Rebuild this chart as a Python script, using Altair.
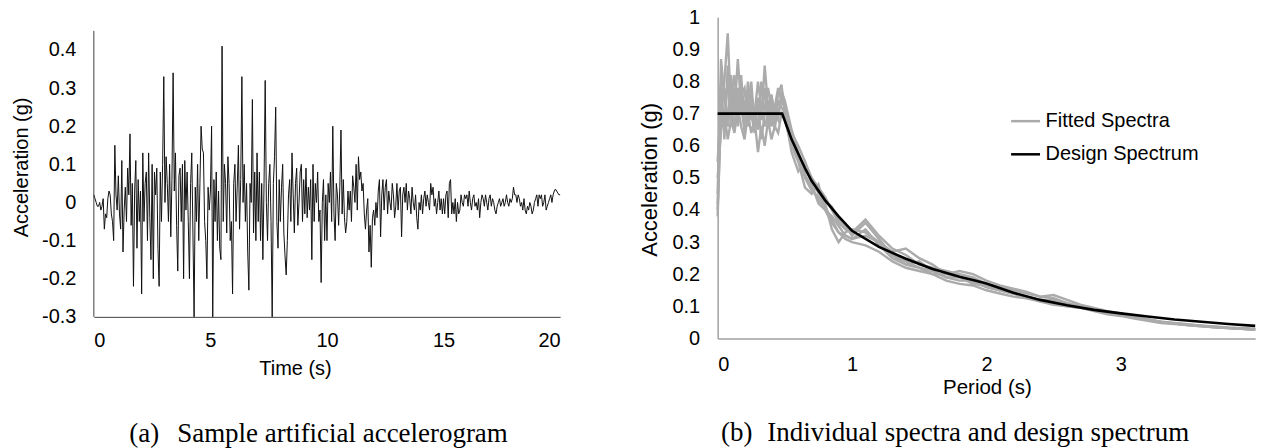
import altair as alt
import pandas as pd

FONT = "Liberation Sans"
SERIF = "Liberation Serif"

# ---------------- Panel (a): sample artificial accelerogram (dt = 0.05 s) ----------------
acc_chunks = [
    [0.02, 0.01, 0.0, -0.01, -0.01, 0.0, -0.02, -0.01, 0.01, -0.07, -0.03, -0.04, 0.01, 0.03, 0.02, -0.03, -0.05, -0.1, 0.15, 0.02],
    [-0.02, 0.07, -0.03, -0.07, 0.11, -0.13, -0.02, 0.04, -0.05, 0.09, 0.02, 0.18, -0.06, 0.05, -0.22, 0.03, 0.11, -0.12, 0.06, -0.05],
    [0.03, -0.24, 0.13, -0.05, 0.05, 0.08, -0.1, 0.13, -0.04, -0.15, 0.1, -0.2, 0.08, 0.02, 0.09, -0.12, -0.22, 0.08, -0.05, 0.1],
    [0.33, 0.0, 0.12, 0.05, -0.05, 0.1, -0.09, 0.06, 0.34, 0.03, 0.13, -0.06, -0.18, 0.07, 0.09, -0.05, 0.1, -0.2, 0.11, -0.02],
    [0.08, -0.05, -0.2, 0.05, 0.13, -0.08, -0.3, 0.04, -0.05, 0.1, -0.1, 0.05, 0.2, 0.14, 0.13, -0.05, -0.1, -0.2, 0.04, -0.02],
    [0.03, 0.2, -0.3, 0.06, -0.05, 0.08, -0.1, 0.03, -0.12, -0.15, 0.41, -0.05, 0.1, 0.05, -0.08, 0.12, 0.05, -0.1, -0.05, -0.24],
    [0.05, 0.1, -0.05, 0.04, 0.15, -0.07, 0.06, 0.33, 0.0, 0.1, -0.05, 0.05, -0.13, -0.23, 0.05, 0.0, 0.27, -0.08, 0.08, -0.1],
    [0.13, -0.05, 0.08, -0.1, 0.05, -0.15, 0.05, 0.32, 0.0, -0.1, 0.05, 0.1, -0.05, -0.3, 0.05, 0.12, 0.25, -0.05, -0.12, 0.06],
    [-0.05, 0.04, 0.1, -0.08, -0.14, -0.19, -0.1, 0.02, 0.06, -0.05, 0.13, 0.02, -0.08, 0.05, 0.09, -0.06, 0.0, 0.08, 0.1, -0.05],
    [0.06, -0.03, 0.09, -0.04, 0.04, -0.02, 0.06, -0.15, 0.1, -0.05, 0.05, 0.0, 0.08, -0.05, -0.02, -0.21, 0.0, 0.06, -0.1, 0.02],
    [-0.1, 0.05, 0.0, 0.08, -0.05, 0.2, -0.03, -0.1, 0.05, 0.02, -0.06, 0.04, 0.19, -0.03, 0.06, -0.04, -0.08, -0.05, 0.03, -0.02],
    [0.03, -0.05, 0.07, 0.04, 0.0, 0.1, -0.02, 0.12, 0.06, 0.08, 0.03, 0.05, -0.03, -0.07, -0.02, 0.01, -0.13, -0.06, -0.17, -0.04],
    [-0.02, -0.06, 0.0, -0.04, 0.03, 0.06, -0.09, 0.02, 0.06, -0.02, 0.04, 0.06, -0.03, 0.03, 0.0, -0.02, 0.05, 0.02, -0.04, -0.01],
    [0.05, -0.02, 0.03, 0.04, -0.09, 0.02, 0.04, 0.0, 0.05, -0.02, 0.03, 0.01, -0.03, 0.04, 0.0, -0.02, 0.02, -0.04, -0.07, 0.0],
    [-0.02, 0.02, -0.03, 0.01, 0.03, -0.01, 0.02, 0.0, -0.02, 0.05, 0.02, 0.04, -0.01, 0.01, -0.03, 0.0, 0.03, -0.02, 0.01, -0.03],
    [0.01, -0.03, 0.02, 0.03, -0.04, 0.05, 0.06, -0.03, 0.0, -0.03, 0.01, -0.05, 0.0, -0.03, -0.02, 0.02, 0.0, -0.01, 0.02, 0.01],
    [0.02, -0.01, 0.03, 0.0, -0.02, 0.01, 0.02, -0.01, 0.0, -0.02, 0.01, -0.04, 0.0, 0.02, 0.01, -0.01, 0.02, 0.0, -0.02, 0.01],
    [0.02, -0.01, 0.01, 0.0, -0.02, -0.03, -0.01, 0.0, 0.01, -0.01, 0.0, 0.01, -0.01, 0.0, 0.02, 0.0, -0.01, 0.01, 0.0, 0.01],
    [0.04, 0.02, 0.02, 0.0, 0.02, 0.01, -0.01, 0.0, -0.02, 0.01, -0.02, -0.03, -0.01, -0.02, 0.0, -0.01, -0.03, -0.02, 0.0, 0.01],
    [0.02, -0.01, 0.02, 0.01, 0.02, -0.01, 0.0, 0.02, -0.02, -0.01, 0.0, 0.01, 0.02, 0.0, 0.02, 0.03, 0.035, 0.03, 0.025, 0.02],
]
acc_values = [v for chunk in acc_chunks for v in chunk] + [0.02]
acc_time = [round(i * 0.05, 2) for i in range(len(acc_values))]

time_ticks = [0, 5, 10, 15, 20]
acc_ticks = [-0.3, -0.2, -0.1, 0, 0.1, 0.2, 0.3, 0.4]

# ---------------- Panel (b): fitted spectra and design spectrum ----------------
period = [0, 0.025, 0.05, 0.075, 0.1, 0.125, 0.15, 0.175, 0.2, 0.225, 0.25, 0.275, 0.3, 0.325, 0.35,
          0.375, 0.4, 0.425, 0.45, 0.475, 0.5,
          0.55, 0.6, 0.65, 0.7, 0.75, 0.8, 0.85, 0.9, 0.95, 1.0,
          1.1, 1.2, 1.3, 1.4, 1.5, 1.6, 1.7, 1.8, 1.9, 2.0, 2.1, 2.2, 2.3, 2.4, 2.5, 2.6, 2.7, 2.8, 2.9, 3.0,
          3.1, 3.2, 3.3, 3.4, 3.5, 3.6, 3.7, 3.8, 3.9, 4.0]

fitted_1 = [0.38, 0.72, 0.8, 0.95, 0.7, 0.78, 0.66, 0.8, 0.7, 0.76, 0.68, 0.72, 0.65, 0.8, 0.7, 0.74, 0.68, 0.72, 0.78, 0.74, 0.72,
            0.64, 0.6, 0.55, 0.5, 0.47, 0.44, 0.4, 0.36, 0.34, 0.33,
            0.37, 0.32, 0.28, 0.26, 0.23, 0.22, 0.21, 0.2, 0.19, 0.17, 0.16, 0.15, 0.14, 0.13, 0.125, 0.11, 0.1, 0.09, 0.08, 0.075,
            0.065, 0.058, 0.05, 0.047, 0.043, 0.04, 0.037, 0.034, 0.032, 0.03]
fitted_2 = [0.45, 0.87, 0.75, 0.68, 0.82, 0.7, 0.87, 0.72, 0.65, 0.8, 0.7, 0.64, 0.75, 0.68, 0.85, 0.72, 0.66, 0.7, 0.76, 0.79, 0.7,
            0.62, 0.56, 0.5, 0.46, 0.44, 0.42, 0.34, 0.3, 0.33, 0.34,
            0.33, 0.3, 0.27, 0.28, 0.25, 0.23, 0.2, 0.21, 0.2, 0.18, 0.165, 0.155, 0.145, 0.13, 0.135, 0.12, 0.105, 0.095, 0.085, 0.078,
            0.068, 0.06, 0.052, 0.048, 0.044, 0.04, 0.036, 0.033, 0.03, 0.028]
fitted_3 = [0.5, 0.65, 0.7, 0.62, 0.68, 0.64, 0.72, 0.66, 0.62, 0.7, 0.64, 0.68, 0.58, 0.66, 0.6, 0.68, 0.62, 0.66, 0.64, 0.7, 0.68,
            0.6, 0.55, 0.47, 0.45, 0.48, 0.4, 0.36, 0.33, 0.31, 0.3,
            0.29, 0.27, 0.24, 0.22, 0.21, 0.2, 0.18, 0.17, 0.165, 0.15, 0.14, 0.13, 0.125, 0.115, 0.105, 0.1, 0.095, 0.085, 0.075, 0.07,
            0.062, 0.055, 0.048, 0.045, 0.042, 0.038, 0.035, 0.032, 0.03, 0.028]
fitted_4 = [0.42, 0.8, 0.62, 0.85, 0.66, 0.75, 0.7, 0.82, 0.64, 0.72, 0.8, 0.66, 0.74, 0.62, 0.7, 0.78, 0.72, 0.65, 0.74, 0.72, 0.7,
            0.58, 0.52, 0.55, 0.48, 0.42, 0.4, 0.38, 0.35, 0.32, 0.31,
            0.34, 0.29, 0.25, 0.23, 0.24, 0.21, 0.19, 0.18, 0.18, 0.16, 0.15, 0.14, 0.13, 0.12, 0.12, 0.11, 0.1, 0.09, 0.082, 0.072,
            0.064, 0.057, 0.05, 0.046, 0.041, 0.038, 0.035, 0.032, 0.03, 0.027]
fitted_5 = [0.4, 0.7, 0.78, 0.66, 0.75, 0.82, 0.68, 0.76, 0.78, 0.66, 0.74, 0.7, 0.8, 0.72, 0.66, 0.7, 0.76, 0.7, 0.68, 0.77, 0.74,
            0.65, 0.58, 0.52, 0.5, 0.45, 0.43, 0.41, 0.37, 0.35, 0.32,
            0.36, 0.31, 0.26, 0.24, 0.22, 0.2, 0.2, 0.19, 0.17, 0.165, 0.155, 0.145, 0.13, 0.12, 0.115, 0.1, 0.095, 0.088, 0.08, 0.073,
            0.066, 0.058, 0.052, 0.047, 0.043, 0.039, 0.036, 0.033, 0.031, 0.029]
fitted_6 = [0.55, 0.75, 0.68, 0.8, 0.72, 0.66, 0.78, 0.7, 0.74, 0.68, 0.76, 0.7, 0.72, 0.7, 0.78, 0.66, 0.74, 0.68, 0.7, 0.74, 0.72,
            0.62, 0.57, 0.51, 0.47, 0.43, 0.41, 0.37, 0.33, 0.32, 0.31,
            0.32, 0.3, 0.26, 0.23, 0.22, 0.21, 0.19, 0.19, 0.175, 0.16, 0.15, 0.14, 0.125, 0.12, 0.11, 0.105, 0.1, 0.088, 0.08, 0.074,
            0.065, 0.058, 0.051, 0.046, 0.042, 0.039, 0.035, 0.032, 0.03, 0.028]

design_period = [0, 0.48, 0.55, 0.6, 0.65, 0.7, 0.8, 0.9, 1.0, 1.2, 1.4, 1.6, 1.8, 1.9, 2.0,
                 2.2, 2.4, 2.6, 2.8, 3.0, 3.2, 3.4, 3.6, 3.8, 4.0]
design_sa = [0.7, 0.7, 0.62, 0.575, 0.53, 0.49, 0.43, 0.38, 0.335, 0.285, 0.248, 0.216, 0.192, 0.182, 0.171,
             0.142, 0.12, 0.103, 0.089, 0.078, 0.068, 0.059, 0.052, 0.045, 0.039]

period_ticks = [0, 1, 2, 3, 4]
sa_ticks = [0, 0.1, 0.2, 0.3, 0.4, 0.5, 0.6, 0.7, 0.8, 0.9, 1]
legend_labels = ["Fitted Spectra", "Design Spectrum"]
legend_colors = ["#ababab", "#000000"]

captions_a = ["(a)", "Sample artificial accelerogram"]
captions_b = ["(b)", "Individual spectra and design spectrum"]

# ---------------- layout (pixels) ----------------
L_W, L_H = 467, 300          # left plot area (top extended so both panels share a top edge)
R_W, R_H = 538.4, 321.6      # right plot area
L_LEFT, TOP = 93.5, 16.7
R_LEFT = 718.3
SPACING = R_LEFT - (L_LEFT + L_W)
Y_TOP_A = -0.3 + L_H / 381.9
TICK_FS = 20

label_fmt = "datum.value == 0 ? '0' : (datum.value < 0 ? '-' : '') + format(abs(datum.value), '.1f')"
label_fmt_b = "datum.value == 0 ? '0' : (datum.value == 1 ? '1' : format(datum.value, '.1f'))"

NO_FRAME = alt.ViewBackground(stroke="transparent", strokeWidth=0, strokeOpacity=0)


def anchor(px, py):
    return alt.Chart(pd.DataFrame({"a": [0]})).mark_rule(strokeWidth=0, opacity=0).encode(
        x=alt.value(px), x2=alt.value(px), y=alt.value(py), y2=alt.value(py)
    )


def caption(text, px, py):
    return alt.Chart(pd.DataFrame({"t": [text]})).mark_text(
        font=SERIF, fontSize=27, color="#000", align="left", baseline="alphabetic"
    ).encode(text="t:N", x=alt.value(px), y=alt.value(py))


# ---- left ----
df_a = pd.DataFrame({"time": acc_time, "acc": acc_values})

x_a = alt.X(
    "time:Q",
    scale=alt.Scale(domain=[0, 20], nice=False, zero=False),
    axis=alt.Axis(
        values=time_ticks, title="Time (s)", grid=False, tickSize=0, labelPadding=14,
        labelFont=FONT, labelFontSize=TICK_FS, labelColor="#000",
        domainColor="#404040", domainWidth=1,
        titleFont=FONT, titleFontSize=20, titleFontWeight="normal", titleColor="#000",
        titleX=201.5, titleY=52, titleAlign="center", titleBaseline="middle",
    ),
)
y_a = alt.Y(
    "acc:Q",
    scale=alt.Scale(domain=[-0.3, Y_TOP_A], nice=False, zero=False),
    axis=alt.Axis(
        values=acc_ticks, labelExpr=label_fmt, title="Acceleration (g)", grid=False, domain=False,
        tickSize=0, labelPadding=18, labelFont=FONT, labelFontSize=TICK_FS, labelColor="#000",
        titleFont=FONT, titleFontSize=20, titleFontWeight="normal", titleColor="#000",
        titleX=-72.9, titleY=149.8, titleAngle=270, titleAlign="center", titleBaseline="middle",
    ),
)

signal = alt.Chart(df_a).mark_line(color="#111111", strokeWidth=1).encode(x=x_a, y=y_a)
yaxis_line = alt.Chart(pd.DataFrame({"time": [0], "lo": [-0.3], "hi": [0.45]})).mark_rule(
    color="#404040", strokeWidth=1
).encode(x="time:Q", y="lo:Q", y2="hi:Q")

left = alt.layer(
    signal, yaxis_line,
    caption(captions_a[0], 129 - L_LEFT, 442 - TOP),
    caption(captions_a[1], 177 - L_LEFT, 442 - TOP),
    anchor(-L_LEFT, -TOP),
).properties(width=L_W, height=L_H, view=NO_FRAME)

# ---- right ----
fitted = [fitted_1, fitted_2, fitted_3, fitted_4, fitted_5, fitted_6]
rows = []
for k, vals in enumerate(fitted):
    for t, v in zip(period, vals):
        rows.append({"T": t, "Sa": v, "series": f"s{k + 1}", "kind": legend_labels[0]})
df_fit = pd.DataFrame(rows)
df_design = pd.DataFrame({"T": design_period, "Sa": design_sa, "kind": legend_labels[1]})

x_b = alt.X(
    "T:Q",
    scale=alt.Scale(domain=[0, 4], nice=False, zero=False),
    axis=alt.Axis(
        values=period_ticks, labelExpr="datum.value == 4 ? '' : datum.label",
        title="Period (s)", grid=False, tickSize=0, labelPadding=16,
        labelFont=FONT, labelFontSize=TICK_FS, labelColor="#000",
        domainColor="#a0a0a0", domainWidth=1.5,
        titleFont=FONT, titleFontSize=20.5, titleFontWeight="normal", titleColor="#000",
        titleX=269.7, titleY=49, titleAlign="center", titleBaseline="middle",
    ),
)
y_b = alt.Y(
    "Sa:Q",
    scale=alt.Scale(domain=[0, 1], nice=False, zero=False),
    axis=alt.Axis(
        values=sa_ticks, labelExpr=label_fmt_b, title="Acceleration (g)", grid=False,
        tickSize=0, labelPadding=18, labelFont=FONT, labelFontSize=TICK_FS, labelColor="#000",
        domainColor="#a0a0a0", domainWidth=1.5,
        titleFont=FONT, titleFontSize=22, titleFontWeight="normal", titleColor="#000",
        titleX=-68.3, titleY=162.3, titleAngle=270, titleAlign="center", titleBaseline="middle",
    ),
)
color_b = alt.Color(
    "kind:N",
    scale=alt.Scale(domain=legend_labels, range=legend_colors),
    legend=alt.Legend(
        title=None, orient="none", legendX=292.4, legendY=88, direction="vertical",
        symbolType="stroke", symbolSize=841, symbolStrokeWidth=2.5,
        labelFont=FONT, labelFontSize=20, labelColor="#000", labelOffset=4,
        rowPadding=7.2, padding=0,
    ),
)

fit_lines = alt.Chart(df_fit).mark_line(strokeWidth=2.4).encode(
    x=x_b, y=y_b, color=color_b, detail="series:N"
)
design_line = alt.Chart(df_design).mark_line(strokeWidth=2.6).encode(x=x_b, y=y_b, color=color_b)

right = alt.layer(
    fit_lines, design_line,
    caption(captions_b[0], 721.7 - R_LEFT, 441 - TOP),
    caption(captions_b[1], 768 - R_LEFT, 441 - TOP),
    anchor(1261 - R_LEFT, 448 - TOP),
).properties(width=R_W, height=R_H, view=NO_FRAME)

chart = alt.hconcat(left, right, spacing=SPACING, bounds="flush").resolve_scale(
    x="independent", y="independent", color="independent"
).properties(
    padding={"left": 0, "top": 0, "right": 0, "bottom": 0}
).configure_view(stroke="transparent", strokeWidth=0, strokeOpacity=0).configure(background="white")

chart.save("out.html", embed_options={"renderer": "svg", "actions": False})
